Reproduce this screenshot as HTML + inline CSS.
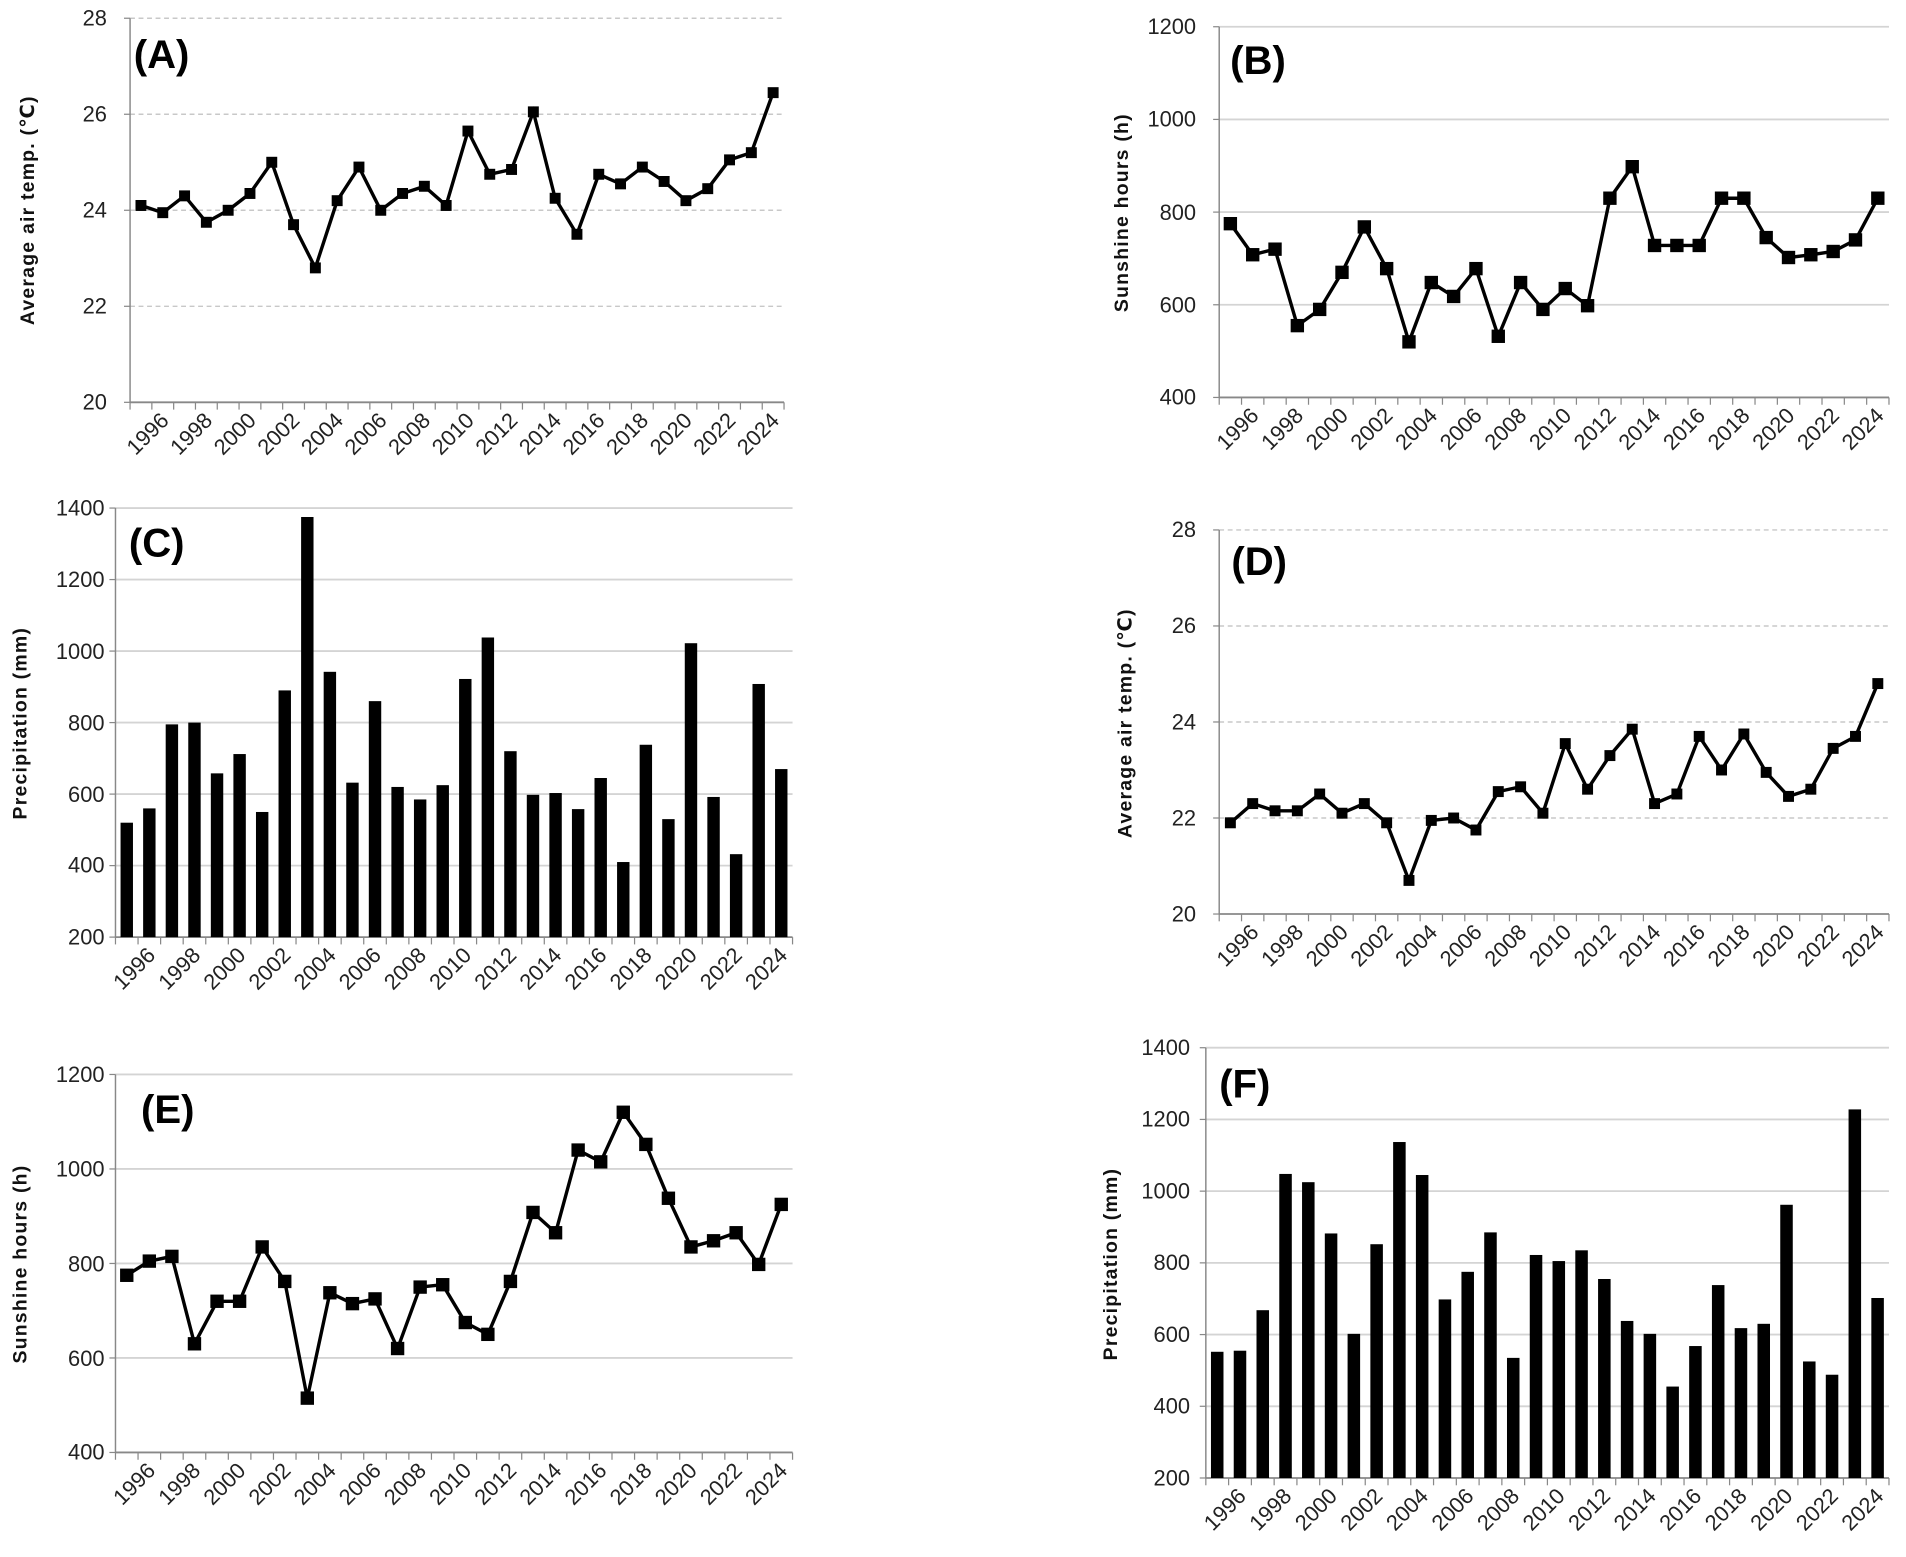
<!DOCTYPE html>
<html><head><meta charset="utf-8"><style>
html,body{margin:0;padding:0;background:#fff}
svg{display:block}
text{font-family:"Liberation Sans Narrow","Liberation Sans",sans-serif;fill:#222}
.yt{font-size:18px;text-anchor:end}
.xl text{font-size:18px;text-anchor:end}
.yl{font-family:"Liberation Sans","DejaVu Sans",sans-serif;font-weight:bold;font-size:16px;letter-spacing:1px;text-anchor:middle;fill:#111}
.tag{font-family:"Liberation Sans Narrow","Liberation Sans",sans-serif;font-weight:bold;font-size:33px;fill:#000}
</style></head><body>
<svg id="s" width="1906" height="1557" viewBox="0 0 1568 1281" preserveAspectRatio="none" xmlns="http://www.w3.org/2000/svg">
<g id="geo"></g>
<!-- A -->
<text class="tag" x="110" y="56">(A)</text>
<text class="yl" transform="translate(28,173) rotate(-90)">Average air temp. (℃)</text>
<text class="yt" x="88" y="21">28</text><text class="yt" x="88" y="100">26</text><text class="yt" x="88" y="179">24</text><text class="yt" x="88" y="258">22</text><text class="yt" x="88" y="337">20</text>
<g class="xl" id="xlA"><text>1996</text><text>1998</text><text>2000</text><text>2002</text><text>2004</text><text>2006</text><text>2008</text><text>2010</text><text>2012</text><text>2014</text><text>2016</text><text>2018</text><text>2020</text><text>2022</text><text>2024</text></g>
<!-- B -->
<text class="tag" x="1012" y="61">(B)</text>
<text class="yl" transform="translate(928,175) rotate(-90)">Sunshine hours (h)</text>
<text class="yt" x="984" y="28">1200</text><text class="yt" x="984" y="104">1000</text><text class="yt" x="984" y="181">800</text><text class="yt" x="984" y="257">600</text><text class="yt" x="984" y="333">400</text>
<g class="xl" id="xlB"><text>1996</text><text>1998</text><text>2000</text><text>2002</text><text>2004</text><text>2006</text><text>2008</text><text>2010</text><text>2012</text><text>2014</text><text>2016</text><text>2018</text><text>2020</text><text>2022</text><text>2024</text></g>
<!-- C -->
<text class="tag" x="106" y="458">(C)</text>
<text class="yl" transform="translate(22,595) rotate(-90)">Precipitation (mm)</text>
<text class="yt" x="86" y="424">1400</text><text class="yt" x="86" y="483">1200</text><text class="yt" x="86" y="542">1000</text><text class="yt" x="86" y="601">800</text><text class="yt" x="86" y="660">600</text><text class="yt" x="86" y="718">400</text><text class="yt" x="86" y="777">200</text>
<g class="xl" id="xlC"><text>1996</text><text>1998</text><text>2000</text><text>2002</text><text>2004</text><text>2006</text><text>2008</text><text>2010</text><text>2012</text><text>2014</text><text>2016</text><text>2018</text><text>2020</text><text>2022</text><text>2024</text></g>
<!-- D -->
<text class="tag" x="1013" y="473">(D)</text>
<text class="yl" transform="translate(931,595) rotate(-90)">Average air temp. (℃)</text>
<text class="yt" x="984" y="442">28</text><text class="yt" x="984" y="521">26</text><text class="yt" x="984" y="600">24</text><text class="yt" x="984" y="679">22</text><text class="yt" x="984" y="758">20</text>
<g class="xl" id="xlD"><text>1996</text><text>1998</text><text>2000</text><text>2002</text><text>2004</text><text>2006</text><text>2008</text><text>2010</text><text>2012</text><text>2014</text><text>2016</text><text>2018</text><text>2020</text><text>2022</text><text>2024</text></g>
<!-- E -->
<text class="tag" x="116" y="924">(E)</text>
<text class="yl" transform="translate(22,1040) rotate(-90)">Sunshine hours (h)</text>
<text class="yt" x="86" y="890">1200</text><text class="yt" x="86" y="968">1000</text><text class="yt" x="86" y="1046">800</text><text class="yt" x="86" y="1124">600</text><text class="yt" x="86" y="1201">400</text>
<g class="xl" id="xlE"><text>1996</text><text>1998</text><text>2000</text><text>2002</text><text>2004</text><text>2006</text><text>2008</text><text>2010</text><text>2012</text><text>2014</text><text>2016</text><text>2018</text><text>2020</text><text>2022</text><text>2024</text></g>
<!-- F -->
<text class="tag" x="1003" y="903">(F)</text>
<text class="yl" transform="translate(919,1040) rotate(-90)">Precipitation (mm)</text>
<text class="yt" x="979" y="868">1400</text><text class="yt" x="979" y="927">1200</text><text class="yt" x="979" y="986">1000</text><text class="yt" x="979" y="1045">800</text><text class="yt" x="979" y="1104">600</text><text class="yt" x="979" y="1163">400</text><text class="yt" x="979" y="1222">200</text>
<g class="xl" id="xlF"><text>1996</text><text>1998</text><text>2000</text><text>2002</text><text>2004</text><text>2006</text><text>2008</text><text>2010</text><text>2012</text><text>2014</text><text>2016</text><text>2018</text><text>2020</text><text>2022</text><text>2024</text></g>
</svg>
<script>
var NS="http://www.w3.org/2000/svg",geo=document.getElementById("geo");
function el(t,a){var e=document.createElementNS(NS,t);for(var k in a)e.setAttribute(k,a[k]);geo.appendChild(e);return e;}
var P=[
{id:"A",x0:107,x1:645,yt:15,yb:331,mn:20,mx:28,st:2,dash:1,ms:9,type:"l",d:[24.1,23.95,24.3,23.75,24.0,24.35,25.0,23.7,22.8,24.2,24.9,24.0,24.35,24.5,24.1,25.65,24.75,24.85,26.05,24.25,23.5,24.75,24.55,24.9,24.6,24.2,24.45,25.05,25.2,26.45]},
{id:"B",x0:1003,x1:1554,yt:22,yb:327,mn:400,mx:1200,st:200,dash:0,ms:11,type:"l",d:[775,708,720,555,590,670,768,678,520,648,618,678,532,648,590,635,598,830,898,728,728,728,830,830,745,702,708,715,740,830]},
{id:"C",x0:95,x1:652,yt:418,yb:771,mn:200,mx:1400,st:200,dash:0,type:"b",d:[520,560,795,800,658,712,550,890,1375,942,632,860,620,585,625,922,1038,720,598,603,558,645,410,738,530,1022,592,432,908,670]},
{id:"D",x0:1003,x1:1554,yt:436,yb:752,mn:20,mx:28,st:2,dash:1,ms:9,type:"l",d:[21.9,22.3,22.15,22.15,22.5,22.1,22.3,21.9,20.7,21.95,22.0,21.75,22.55,22.65,22.1,23.55,22.6,23.3,23.85,22.3,22.5,23.7,23.0,23.75,22.95,22.45,22.6,23.45,23.7,24.8]},
{id:"E",x0:95,x1:652,yt:884,yb:1195,mn:400,mx:1200,st:200,dash:0,ms:11,type:"l",d:[775,805,815,630,720,720,835,762,515,738,715,725,620,750,755,675,650,762,908,865,1040,1015,1120,1052,938,835,848,865,798,925]},
{id:"F",x0:992,x1:1554,yt:862,yb:1216,mn:200,mx:1400,st:200,dash:0,type:"b",d:[552,555,668,1048,1025,882,602,852,1137,1045,698,775,885,535,822,805,835,755,638,602,455,568,738,618,630,962,525,488,1228,702]}
];
P.forEach(function(p){
 var w=(p.x1-p.x0)/30;
 function Y(v){return p.yb-(v-p.mn)/(p.mx-p.mn)*(p.yb-p.yt);}
 for(var v=p.mn+p.st;v<=p.mx+1e-9;v+=p.st){var y=Y(v);
  el("line",{x1:p.x0,x2:p.x1,y1:y,y2:y,stroke:p.dash?"#c8c8c8":"#d4d4d4","stroke-width":p.dash?1.2:1.5,"stroke-dasharray":p.dash?"4,3":"none"});}
 for(var v=p.mn;v<=p.mx+1e-9;v+=p.st){var y=Y(v);el("line",{x1:p.x0-5,x2:p.x0,y1:y,y2:y,stroke:"#888","stroke-width":1});}
 el("line",{x1:p.x0,x2:p.x0,y1:p.yt,y2:p.yb,stroke:"#888","stroke-width":1.2});
 el("line",{x1:p.x0,x2:p.x1,y1:p.yb,y2:p.yb,stroke:"#888","stroke-width":1.5});
 for(var i=0;i<=30;i++){var x=p.x0+w*i;el("line",{x1:x,x2:x,y1:p.yb,y2:p.yb+6,stroke:"#888","stroke-width":1});}
 if(p.type=="b"){
  p.d.forEach(function(v,i){var cx=p.x0+w*(i+0.5),bw=w*0.55;el("rect",{x:cx-bw/2,y:Y(v),width:bw,height:p.yb-Y(v),fill:"#000"});});
 }else{
  var pts=p.d.map(function(v,i){return (p.x0+w*(i+0.5)).toFixed(1)+","+Y(v).toFixed(1);}).join(" ");
  el("polyline",{points:pts,fill:"none",stroke:"#000","stroke-width":2.8,"stroke-linejoin":"miter"});
  var m=p.ms;
  p.d.forEach(function(v,i){var cx=p.x0+w*(i+0.5);el("rect",{x:cx-m/2,y:Y(v)-m/2,width:m,height:m,fill:"#000"});});
 }
 var ts=document.getElementById("xl"+p.id).getElementsByTagName("text");
 for(var k=0;k<ts.length;k++){var i=2*k+1;var cx=p.x0+w*(i+0.5)+6;
  ts[k].setAttribute("transform","translate("+cx+","+(p.yb+16)+") rotate(-45)");}
});
</script>
</body></html>
